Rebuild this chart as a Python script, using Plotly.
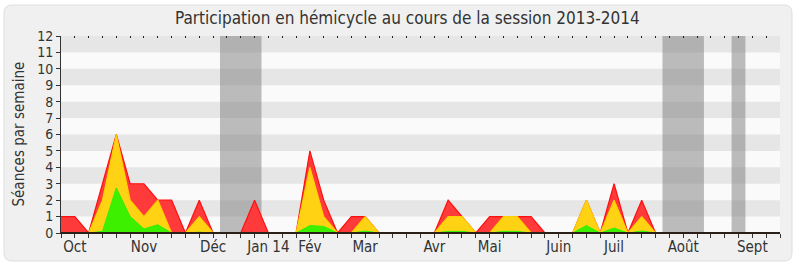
import plotly.graph_objects as go

weeks = list(range(53))
month_labels = ["Oct", "Nov", "Déc", "Jan 14", "Fév", "Mar", "Avr", "Mai", "Juin", "Juil", "Août", "Sept"]
month_weeks = [1, 6, 11, 15, 18, 22, 27, 31, 36, 40, 45, 50]

red = [1, 1, 0, 3, 6, 3, 3, 2, 2, 0, 2, 0, 0, 0, 2, 0, 0, 0, 5, 2, 0, 1, 1, 0, 0, 0, 0, 0,
       2, 1, 0, 1, 1, 1, 1, 0, 0, 0, 2, 0, 3, 0, 2, 0, 0, 0, 0, 0, 0, 0, 0, 0, 0]
yellow = [0, 0, 0, 2, 6, 2, 1, 2, 0, 0, 1, 0, 0, 0, 0, 0, 0, 0, 4, 1, 0, 0, 1, 0, 0, 0, 0, 0,
          1, 1, 0, 0, 1, 1, 0, 0, 0, 0, 2, 0, 2, 0, 1, 0, 0, 0, 0, 0, 0, 0, 0, 0, 0]
green = [0, 0, 0, 0.1, 2.75, 1.0, 0.25, 0.5, 0, 0, 0.05, 0, 0, 0, 0, 0, 0, 0, 0.45, 0.4, 0, 0, 0.12, 0, 0, 0, 0, 0,
         0.1, 0.1, 0, 0, 0.1, 0.1, 0, 0, 0, 0, 0.45, 0, 0.3, 0, 0.12, 0, 0, 0, 0, 0, 0, 0, 0, 0, 0]
vacations = [(11.5, 14.5), (43.5, 46.5), (48.5, 49.5)]
y_max = 12

FONT = "DejaVu Sans Condensed, DejaVu Sans, sans-serif"
TXT = "#333333"
AXIS = "#2a2018"

fig = go.Figure()
fig.add_trace(go.Scatter(x=weeks, y=red, mode="lines", fill="tozeroy",
                         line=dict(color="#ff1010", width=1.2), fillcolor="#ff3a3a",
                         hoverinfo="skip", showlegend=False))
fig.add_trace(go.Scatter(x=weeks, y=yellow, mode="lines", fill="tozeroy",
                         line=dict(color="#ffd000", width=1.2), fillcolor="#ffd314",
                         hoverinfo="skip", showlegend=False))
fig.add_trace(go.Scatter(x=weeks, y=green, mode="lines", fill="tozeroy",
                         line=dict(color="#33ee00", width=1), fillcolor="#3cf000",
                         hoverinfo="skip", showlegend=False))
fig.add_trace(go.Scatter(x=[0, 52], y=[0, 0], xaxis="x2", mode="lines",
                         line=dict(width=0), hoverinfo="skip", showlegend=False))

L, R, T, B = 61, 20, 36, 34
W, H = 800, 267
pw, ph = W - L - R, H - T - B


def px(x):
    return (x - L) / pw


def py(y):
    return (H - B - y) / ph


shapes = []
x0, x1, yt, yb = px(4), px(792), py(5), py(261)
rx, ry = 8 / pw, 8 / ph
path = (f"M {x0+rx},{yb} L {x1-rx},{yb} Q {x1},{yb} {x1},{yb+ry} L {x1},{yt-ry} "
        f"Q {x1},{yt} {x1-rx},{yt} L {x0+rx},{yt} Q {x0},{yt} {x0},{yt-ry} "
        f"L {x0},{yb+ry} Q {x0},{yb} {x0+rx},{yb} Z")
shapes.append(dict(type="path", path=path, xref="paper", yref="paper", layer="below",
                   fillcolor="#f0f0f0", line=dict(color="#dedede", width=1)))
shapes.append(dict(type="rect", xref="x", yref="y", x0=0, x1=52, y0=0, y1=y_max, layer="below",
                   fillcolor="#fafafa", line=dict(width=0)))
for k in range(1, y_max, 2):
    shapes.append(dict(type="rect", xref="x", yref="y", x0=0, x1=52, y0=k, y1=k + 1, layer="below",
                       fillcolor="#e6e6e6", line=dict(width=0)))
for a, b in vacations:
    shapes.append(dict(type="rect", xref="x", yref="y", x0=a, x1=b, y0=0, y1=y_max, layer="below",
                       fillcolor="rgba(120,120,120,0.48)", line=dict(width=0)))
shapes.append(dict(type="line", xref="paper", yref="y", x0=0, x1=1, y0=0, y1=0, layer="above",
                   line=dict(color=AXIS, width=2)))

tickvals = weeks
ticktext = [month_labels[month_weeks.index(w)] if w in month_weeks else "" for w in weeks]

fig.update_layout(
    width=W, height=H,
    margin=dict(l=L, r=R, t=T, b=B, autoexpand=False),
    paper_bgcolor="white",
    plot_bgcolor="rgba(0,0,0,0)",
    font=dict(family=FONT, color=TXT, size=14),
    shapes=shapes,
    xaxis=dict(range=[0, 52], tickvals=tickvals, ticktext=ticktext, ticks="outside",
               ticklen=4, tickwidth=1, tickcolor="#333", showgrid=False, zeroline=False,
               showline=True, linecolor=AXIS, linewidth=1, layer="above traces",
               automargin=False, ticklabelstandoff=-4,
               tickfont=dict(size=15, color=TXT, family=FONT)),
    xaxis2=dict(range=[0, 52], overlaying="x", side="top", tickvals=tickvals, ticks="inside",
                ticklen=2, tickwidth=1.2, tickcolor="#222", showticklabels=False,
                showgrid=False, zeroline=False, showline=False, automargin=False),
    yaxis=dict(range=[0, y_max], tickvals=list(range(0, y_max + 1)), ticks="outside",
               ticklen=4, tickwidth=1, tickcolor="#333", showgrid=False, zeroline=False,
               showline=True, linecolor="#333", linewidth=1, layer="above traces",
               automargin=False, tickfont=dict(size=14, color=TXT, family=FONT)),
    annotations=[
        dict(text="Participation en hémicycle au cours de la session 2013-2014",
             xref="paper", yref="paper", x=px(407), y=py(18), xanchor="center", yanchor="middle",
             showarrow=False, font=dict(size=17, color=TXT, family=FONT)),
        dict(text="Séances par semaine", xref="paper", yref="paper", x=px(18), y=0.5,
             xanchor="center", yanchor="middle", textangle=-90, showarrow=False,
             font=dict(size=15, color=TXT, family=FONT)),
    ],
)

fig.write_html("out.html")
